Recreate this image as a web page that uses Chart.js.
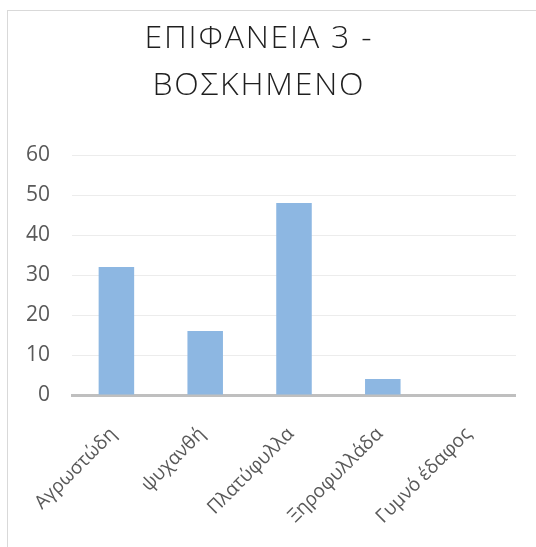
<!DOCTYPE html>
<html>
<head>
<meta charset="utf-8">
<script src="https://cdn.jsdelivr.net/npm/chart.js@4.4.1/dist/chart.umd.min.js"></script>
<style>
  html, body { margin: 0; padding: 0; background: #fff; overflow: hidden; }
  body { width: 536px; height: 547px; position: relative; }
  .frame {
    position: absolute; left: 7px; top: 10px; width: 600px; height: 600px;
    border-left: 1px solid #d9d9d9; border-top: 1px solid #d9d9d9;
  }
  #wrap { position: absolute; left: 0; top: 0; width: 516px; height: 547px; }
</style>
</head>
<body>
<div class="frame"></div>
<div id="wrap"><canvas id="chart"></canvas></div>
<script>
var categories = ['Αγρωστώδη', 'ψυχανθή', 'Πλατύφυλλα', 'Ξηροφυλλάδα', 'Γυμνό έδαφος'];
var values = [32, 16, 48, 4, 0];
var titleLines = ['ΕΠΙΦΑΝΕΙΑ 3 -', 'ΒΟΣΚΗΜΕΝΟ'];
var yMin = 0, yMax = 60, yStep = 10;

var labelColor = '#595959';

// chart.js title has no letter spacing, so the title is drawn here
var spacedTitle = {
    id: 'spacedTitle',
    afterDraw: function (chart) {
        var ctx = chart.ctx;
        var spacing = 1.8;
        ctx.save();
        ctx.font = '300 32px "Open Sans"';
        ctx.fillStyle = '#1f1f1f';
        ctx.textAlign = 'center';
        ctx.textBaseline = 'alphabetic';
        ctx.letterSpacing = spacing + 'px';
        titleLines.forEach(function (line, i) {
            ctx.fillText(line, 258 + spacing / 2, 48 + i * 47);
        });
        ctx.restore();
    }
};

var chart = new Chart('chart', {
    type: 'bar',
    data: {
        labels: categories,
        datasets: [{
            label: 'Σειρά 1',
            data: values,
            backgroundColor: '#8db7e2',
            borderWidth: 0,
            barPercentage: 0.4,
            categoryPercentage: 1.0
        }]
    },
    plugins: [spacedTitle],
    options: {
        responsive: true,
        maintainAspectRatio: false,
        animation: { duration: 0 },
        layout: { padding: { left: 0, right: 0, top: 155, bottom: 0 } },
        plugins: {
            legend: { display: false },
            tooltip: { enabled: false },
            title: { display: false }
        },
        scales: {
            x: {
                grid: { display: false, drawTicks: false },
                border: { display: true, color: '#bfbfbf', width: 3 },
                ticks: {
                    color: labelColor,
                    font: { family: 'Open Sans', size: 19 },
                    minRotation: 45,
                    maxRotation: 45,
                    autoSkip: false,
                    padding: 28,
                    labelOffset: -3
                },
                afterFit: function (scale) { scale.height = 152; }
            },
            y: {
                min: yMin,
                max: yMax,
                ticks: {
                    stepSize: yStep,
                    color: labelColor,
                    font: { family: 'Open Sans', size: 21 },
                    padding: 22
                },
                grid: { color: '#ececec', lineWidth: 1, drawTicks: false },
                border: { display: false },
                afterFit: function (scale) { scale.width = 72; }
            }
        }
    }
});
</script>
</body>
</html>
